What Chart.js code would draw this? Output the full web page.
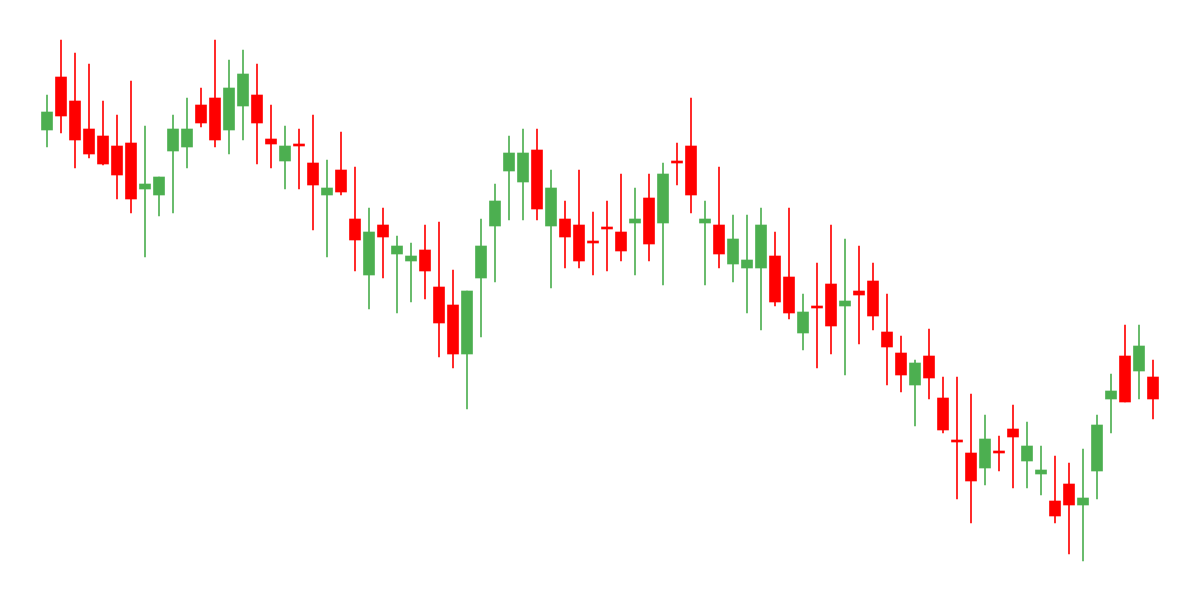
<!DOCTYPE html>
<html>
<head>
<meta charset="utf-8">
<script src="https://cdn.jsdelivr.net/npm/chart.js@4.4.1/dist/chart.umd.min.js"></script>
<style>
  html, body { margin: 0; padding: 0; background: #ffffff; }
  #wrap { width: 1200px; height: 600px; }
</style>
</head>
<body>
<div id="wrap"><canvas id="candleChart" width="1200" height="600"></canvas></div>
<script>
// candle data (80 sessions)
const openPrices = [137.0, 142.3, 139.9, 137.1, 136.4, 135.4, 135.7, 131.1, 130.5, 134.9,
  135.3, 139.5, 140.2, 137.0, 139.4, 140.5, 136.1, 133.9, 135.4, 133.7,
  130.5, 133.0, 128.1, 122.5, 127.5, 124.6, 123.9, 125.0, 121.3, 119.5,
  114.6, 122.2, 127.4, 132.9, 131.8, 135.0, 127.4, 128.1, 127.5, 125.7,
  127.1, 126.8, 127.7, 130.2, 127.7, 133.7, 135.4, 127.7, 127.5, 123.6,
  123.2, 123.2, 124.4, 122.3, 116.7, 119.2, 121.6, 119.4, 120.9, 121.9,
  116.8, 114.7, 111.5, 114.4, 110.2, 105.8, 104.7, 103.2, 104.7, 107.1,
  103.9, 102.6, 99.9, 101.6, 99.5, 102.9, 110.1, 114.4, 112.9, 112.3];

const highPrices = [140.5, 146.0, 144.7, 143.6, 139.9, 138.5, 141.9, 137.4, 132.3, 138.5,
  140.2, 141.2, 146.0, 144.0, 145.0, 143.6, 139.5, 137.4, 137.1, 138.5,
  134.0, 136.8, 133.3, 129.2, 129.2, 126.4, 125.7, 127.5, 127.8, 123.0,
  120.9, 128.1, 131.6, 136.4, 137.1, 137.1, 133.0, 129.9, 133.0, 128.8,
  129.9, 132.6, 131.2, 132.6, 133.7, 135.7, 140.2, 129.9, 133.3, 128.5,
  128.5, 129.2, 126.8, 129.2, 120.6, 123.7, 127.5, 126.1, 125.4, 123.7,
  120.6, 116.4, 114.0, 117.1, 112.3, 112.3, 110.6, 108.5, 106.4, 109.5,
  107.8, 105.4, 104.4, 103.7, 105.1, 108.5, 112.6, 117.5, 117.5, 114.0];

const lowPrices = [135.3, 136.7, 133.2, 134.2, 133.5, 130.1, 128.7, 124.3, 128.4, 128.7,
  133.2, 137.3, 135.3, 134.6, 136.0, 133.6, 133.2, 131.1, 131.1, 127.0,
  124.3, 130.5, 122.9, 119.1, 122.2, 118.7, 119.8, 120.1, 114.3, 113.2,
  109.1, 116.3, 121.8, 128.0, 128.0, 128.0, 121.2, 123.2, 123.2, 122.5,
  122.9, 123.9, 122.5, 123.9, 121.5, 131.5, 128.7, 121.5, 123.2, 121.8,
  118.7, 117.0, 119.4, 118.1, 115.0, 113.2, 114.6, 112.5, 115.6, 117.0,
  111.5, 110.8, 107.4, 110.1, 106.7, 100.1, 97.7, 101.5, 102.9, 101.2,
  101.2, 100.5, 97.7, 94.6, 93.9, 100.1, 106.7, 109.8, 110.1, 108.1];

const closePrices = [138.8, 138.4, 136.0, 134.6, 133.6, 132.5, 130.1, 131.6, 132.3, 137.1,
  137.1, 137.7, 136.0, 141.2, 142.6, 137.7, 135.6, 135.4, 135.4, 131.5,
  131.2, 130.8, 126.0, 126.8, 126.3, 125.4, 124.4, 122.9, 117.7, 114.6,
  120.9, 125.4, 129.9, 134.7, 134.7, 129.1, 131.2, 126.3, 123.9, 125.7,
  127.1, 124.9, 128.1, 125.6, 132.6, 133.7, 130.5, 128.1, 124.6, 126.1,
  124.0, 127.5, 119.8, 118.7, 118.8, 119.2, 117.4, 119.9, 120.5, 118.4,
  115.3, 112.5, 113.7, 112.2, 107.0, 105.8, 101.9, 106.1, 104.7, 106.3,
  105.4, 103.0, 98.4, 99.5, 100.2, 107.5, 110.9, 109.8, 115.4, 110.1];

const sessionLabels = openPrices.map((_, i) => 'Day ' + (i + 1));

const upColor = '#4CAF50';
const downColor = '#FF0000';

function createCandleChart() {
    // bodies: open -> close, wicks: low -> high
    const bodies = openPrices.map((o, i) => [o, closePrices[i]]);
    const wicks = lowPrices.map((l, i) => [l, highPrices[i]]);
    const colors = openPrices.map((o, i) => closePrices[i] > o ? upColor : downColor);

    const ctx = document.getElementById('candleChart').getContext('2d');

    new Chart(ctx, {
        type: 'bar',
        data: {
            labels: sessionLabels,
            datasets: [{
                label: 'Body',
                data: bodies,
                backgroundColor: colors,
                borderWidth: 0,
                borderSkipped: false,
                barThickness: 11,
                minBarLength: 2,
                grouped: false
            }, {
                label: 'Wick',
                data: wicks,
                backgroundColor: colors,
                borderWidth: 0,
                borderSkipped: false,
                barThickness: 1,
                grouped: false
            }]
        },
        options: {
            responsive: false,
            animation: false,
            layout: {
                padding: { left: 40, right: 40, top: 0, bottom: 0 }
            },
            scales: {
                x: { display: false, offset: true },
                y: { display: false, min: 90, max: 150 }
            },
            plugins: {
                legend: { display: false },
                tooltip: { enabled: false }
            }
        }
    });
}

window.onload = function() {
    createCandleChart();
};
</script>
</body>
</html>
